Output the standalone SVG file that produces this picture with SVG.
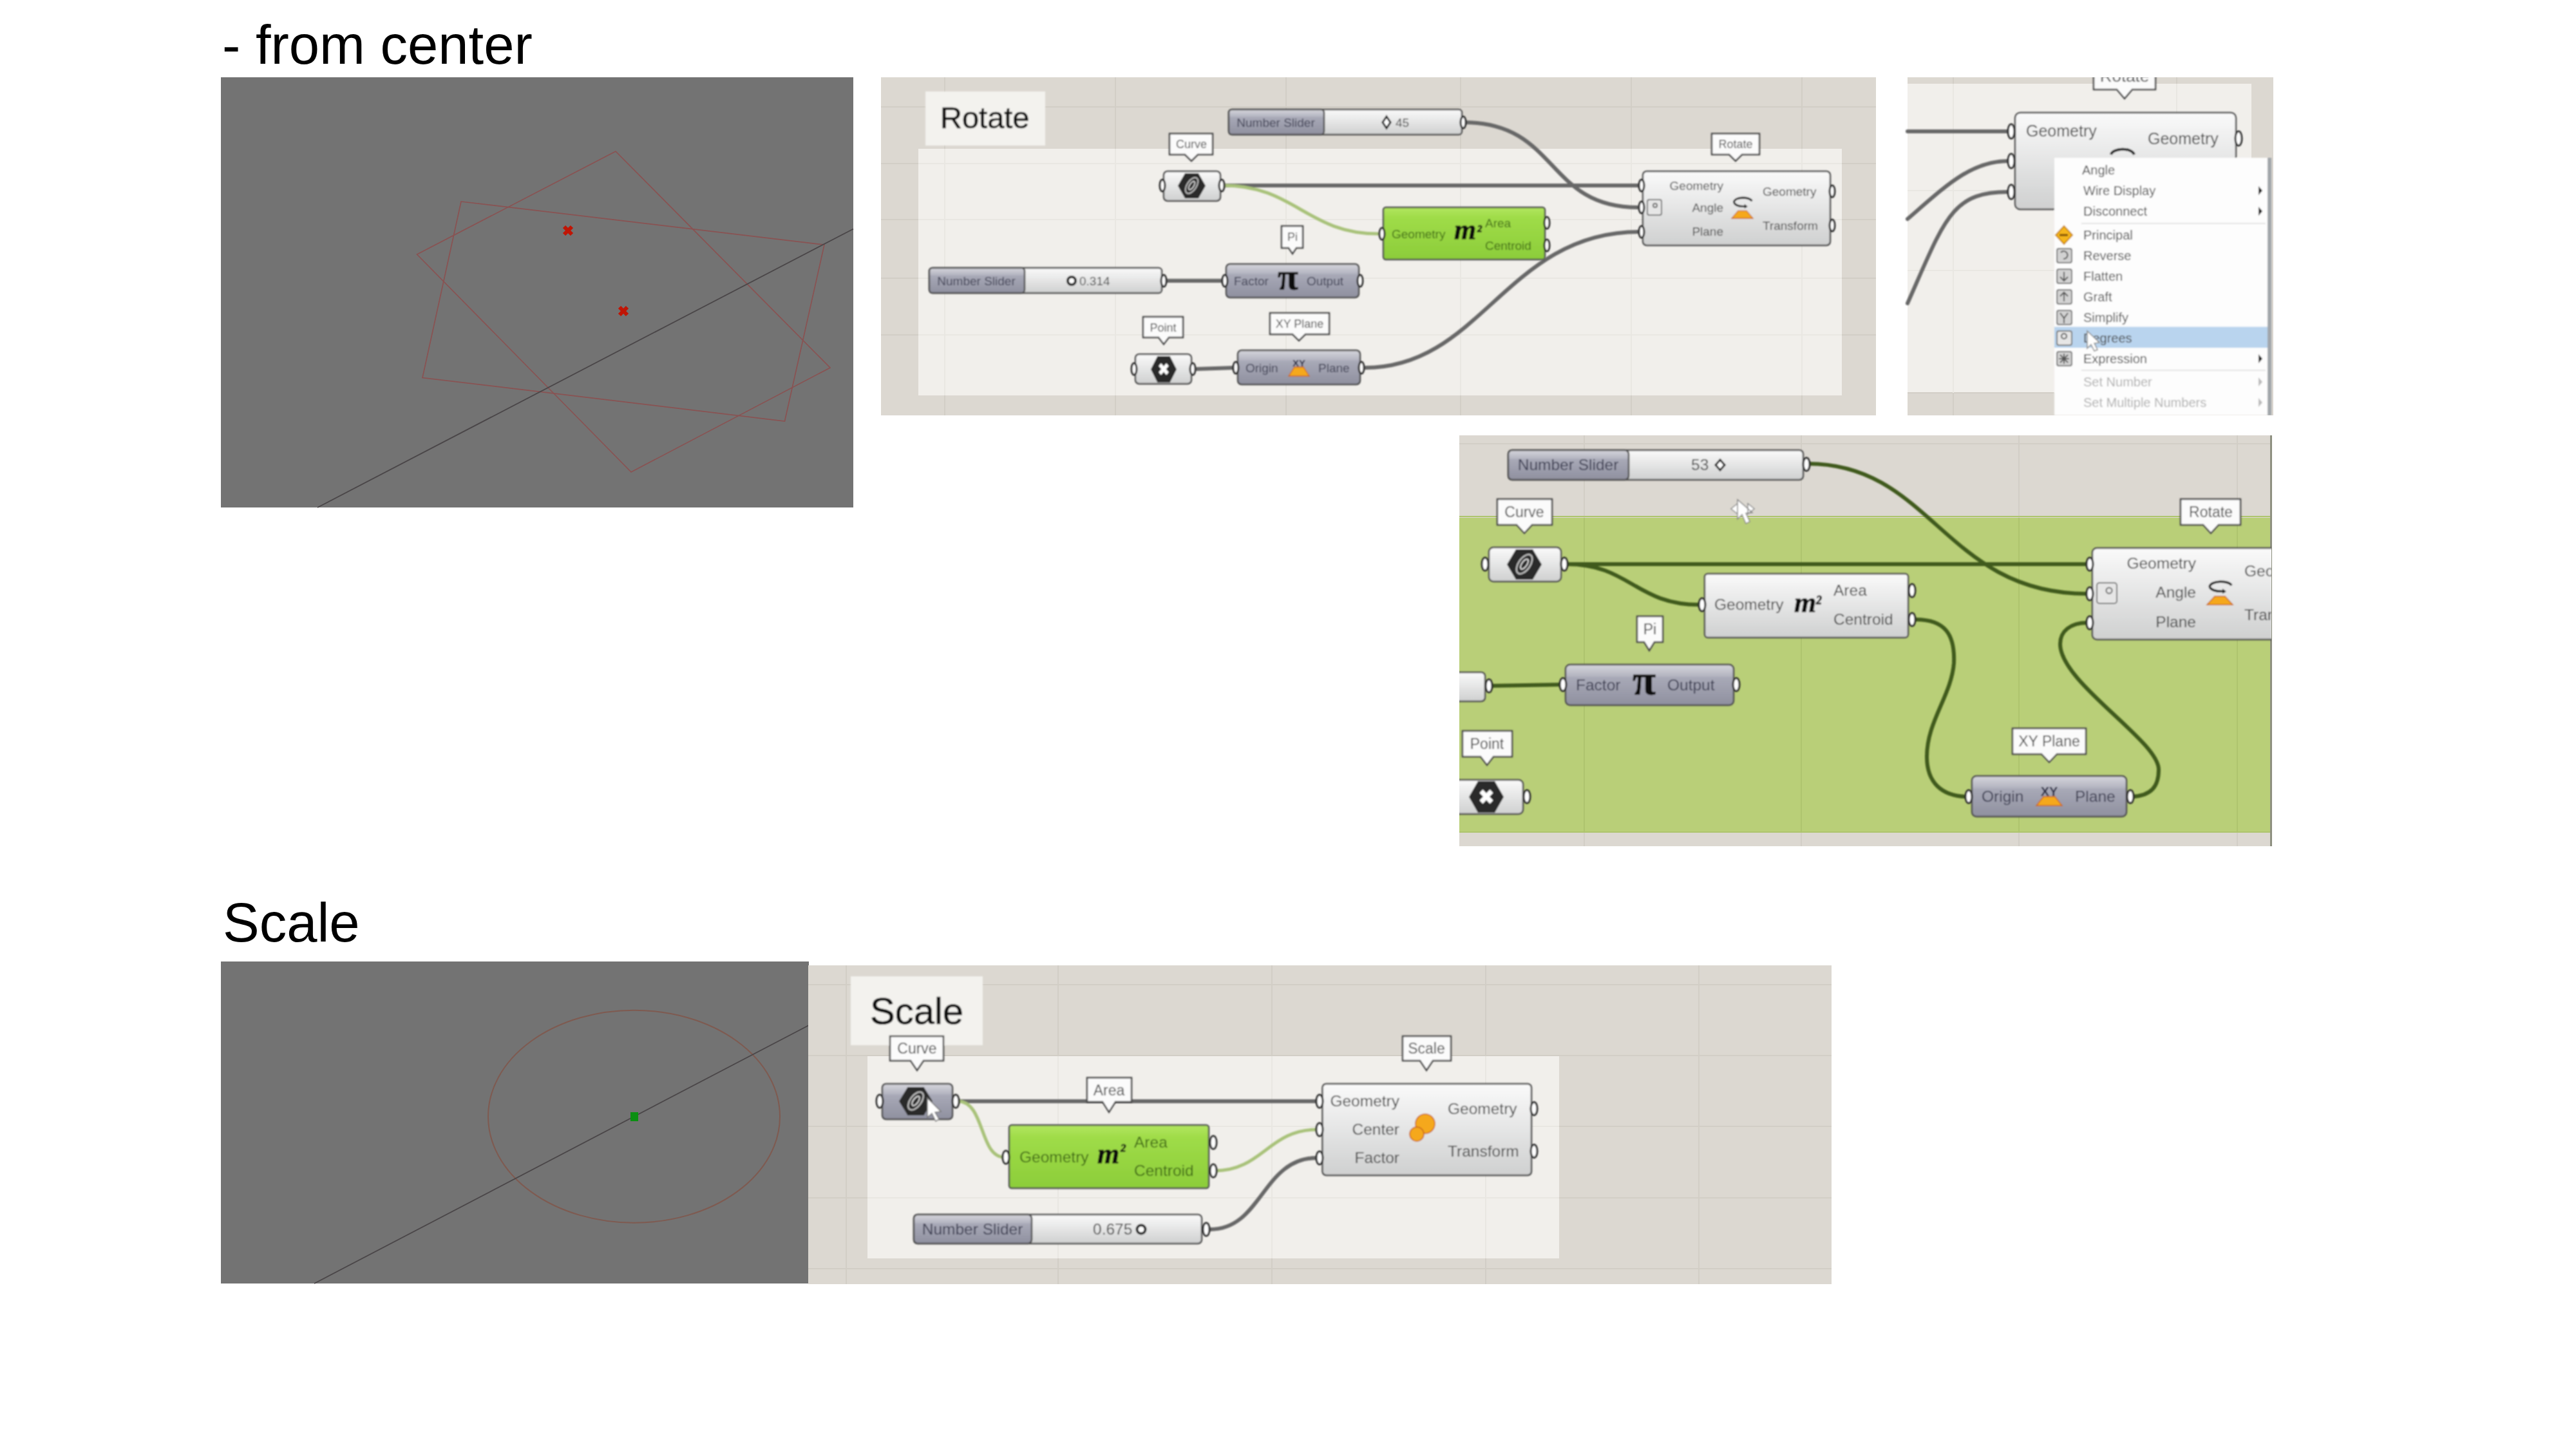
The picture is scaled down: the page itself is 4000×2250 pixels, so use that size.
<svg xmlns="http://www.w3.org/2000/svg" width="4000" height="2250" viewBox="0 0 4000 2250">
<style>
text{font-family:"Liberation Sans",Arial,sans-serif;fill:#4a4a4a}
.title{font-size:85px;fill:#000}
.view{fill:#737373}
.cv{fill:#dcd8d1}
.wh{fill:#f1efeb}
.gl{stroke:#d2cec6;stroke-width:2;fill:none}
.glw{stroke:#e9e7e2;stroke-width:2;fill:none}
.red{fill:none;stroke:#8a5252;stroke-width:1.7}
.axis{fill:none;stroke:#4a4648;stroke-width:1.8}
.mark{fill:none;stroke:#c01505;stroke-width:6}
.n{stroke:#4f4f4f;stroke-width:2.5}
.lt{fill:url(#gLt)}
.bl{fill:url(#gBl)}
.gr{fill:url(#gGr)}
.tip{fill:#fbfbfb;stroke:#4a4a4a;stroke-width:2.5}
.p{fill:#fff;stroke:#2a2a2a;stroke-width:3}
.w{fill:none;stroke:#686868;stroke-width:6;stroke-linecap:round}
.wg{fill:none;stroke:#a9c27a;stroke-width:5;stroke-linecap:round}
.wd{fill:none;stroke:#3f5a1e;stroke-width:6;stroke-linecap:round}
.m{text-anchor:middle}
.e{text-anchor:end}
.s19{font-size:19px}.s24{font-size:24.5px}.s18{font-size:18px}.s23{font-size:23px}.s20{font-size:20px}
.gt{fill:#3f6b16}
.nv{fill:#3c3e52}
.hex{fill:#2a2a2a}
.pi{font-family:"Liberation Serif",serif;font-weight:bold;fill:#111;stroke:#111;stroke-width:.8}
.m2{font-family:"Liberation Serif",serif;font-weight:bold;font-style:italic;fill:#111;stroke:#111;stroke-width:.8}
.xy{font-weight:bold;fill:#2c2c44;text-anchor:middle}
.hd{fill:#111;stroke:#111;stroke-width:.6}
.or{fill:#f5a81e;stroke:#c8641a;stroke-width:1.5}
.ic{fill:#d2d2d2;stroke:#777;stroke-width:2}
.dim{fill:#b0b0b0}
</style>
<defs>
<linearGradient id="gLt" x1="0" y1="0" x2="0" y2="1"><stop offset="0" stop-color="#fafafa"/><stop offset="1" stop-color="#cfd0d0"/></linearGradient>
<linearGradient id="gBl" x1="0" y1="0" x2="0" y2="1"><stop offset="0" stop-color="#d6d6dc"/><stop offset=".28" stop-color="#b4b5c1"/><stop offset=".32" stop-color="#a8a9b7"/><stop offset="1" stop-color="#8f909f"/></linearGradient>
<linearGradient id="gGr" x1="0" y1="0" x2="0" y2="1"><stop offset="0" stop-color="#b2e660"/><stop offset=".2" stop-color="#9fdc48"/><stop offset="1" stop-color="#8ccd3a"/></linearGradient>
<filter id="soft" x="-2%" y="-2%" width="104%" height="104%"><feGaussianBlur stdDeviation="0.8"/></filter>
<clipPath id="cA"><rect x="2962" y="120" width="568" height="525"/></clipPath>
<clipPath id="cB"><rect x="2266" y="676" width="1261" height="638"/></clipPath>
<symbol id="crv" viewBox="0 0 54 47" preserveAspectRatio="none" overflow="visible"><polygon class="hex" points="0,23.500 14,0 40,0 54,23.500 40,47 14,47"/><ellipse cx="27" cy="23" rx="9" ry="17" transform="rotate(35 27 23)" fill="none" stroke="#bbb" stroke-width="2.500"/><ellipse cx="27" cy="23" rx="4" ry="9" transform="rotate(35 27 23)" fill="none" stroke="#ddd" stroke-width="2"/></symbol>
<symbol id="pt" viewBox="0 0 54 47" preserveAspectRatio="none" overflow="visible"><polygon class="hex" points="0,23.500 14,0 40,0 54,23.500 40,47 14,47"/><path d="M19 15L35 31M35 15L19 31" stroke="#fff" stroke-width="7" fill="none"/></symbol>
<symbol id="rot" viewBox="0 0 40 37" preserveAspectRatio="none" overflow="visible"><path d="M4 9C6 -1 34 -1 38 7M4 9C6 14 14 17 26 16" fill="none" stroke="#1c1c1c" stroke-width="3.500"/><polygon points="24,12 30,16.500 24,20" fill="#1c1c1c"/><polygon class="or" points="12,24 28,24 40,37 0,37"/></symbol>
<symbol id="xy" viewBox="0 0 40 14" preserveAspectRatio="none" overflow="visible"><polygon class="or" points="11,0 29,0 40,14 0,14"/></symbol>
</defs>

<text class="title" x="345" y="99">- from center</text>
<text class="title" x="346" y="1462">Scale</text>

<!-- viewport 1 -->
<rect class="view" x="343" y="120" width="982" height="668"/>
<polygon class="red" points="956,235 1289,571 980,733 647.5,395"/>
<polygon class="red" points="716,313 1280,380 1218.5,654 656,586.5"/>
<line class="axis" x1="493" y1="788" x2="1325" y2="355.5"/>
<path class="mark" d="M876 352L888 364M888 352L876 364M962 477L974 489M974 477L962 489"/>

<!-- viewport 2 -->
<rect class="view" x="343" y="1493" width="913" height="500"/>
<ellipse cx="984.5" cy="1733.7" rx="226.5" ry="165" fill="none" stroke="#7f5a50" stroke-width="2"/>
<line class="axis" x1="488" y1="1993" x2="1256" y2="1592"/>
<rect x="979" y="1727" width="12" height="14" fill="#0b8f12"/>

<!-- canvas backgrounds -->
<rect class="cv" x="1368" y="120" width="1545" height="525"/>
<path class="gl" d="M1467 120V645M1732 120V645M1997 120V645M2268 120V645M2533 120V645M2798 120V645M1368 166H2913M1368 254H2913M1368 341H2913M1368 432H2913M1368 520H2913"/>
<rect class="wh" x="1426" y="231" width="1434" height="383"/>
<path class="glw" d="M1467 231V614M1732 231V614M1997 231V614M2268 231V614M2533 231V614M2798 231V614M1426 254H2860M1426 341H2860M1426 432H2860M1426 520H2860"/>

<rect class="cv" x="2962" y="120" width="568" height="525"/>
<rect class="wh" x="2962" y="130" width="534" height="480"/>
<path class="gl" d="M3033 120V130M3033 610V645M3380 120V130M2962 610H3190"/>
<path class="glw" d="M3033 130V610M3380 130V610M2962 296H3190M2962 420H3190"/>

<rect class="cv" x="2266" y="676" width="1261" height="638"/>
<rect x="2266" y="804" width="1259" height="488" fill="#b9cf78"/>
<path d="M3526.500 676V1314" stroke="#8e9080" stroke-width="3"/>
<path class="gl" d="M2460 676V804M2797 676V804M3135 676V804M3474 676V804M2460 1292V1314M2797 1292V1314M3135 1292V1314M3474 1292V1314M2266 689H3525"/>
<path d="M2460 804V1292M2797 804V1292M3135 804V1292M3474 804V1292M2266 802H3525M2266 1292H3525" fill="none" stroke="#aec46e" stroke-width="2"/>

<rect class="cv" x="1255" y="1499" width="1589" height="495"/>
<path class="gl" d="M1314 1499V1994M1643 1499V1994M1975 1499V1994M2307 1499V1994M2638 1499V1994M1255 1529H2844M1255 1639H2844M1255 1749H2844M1255 1860H2844M1255 1970H2844"/>
<rect class="wh" x="1347" y="1640" width="1074" height="314"/>
<path class="glw" d="M1643 1640V1954M1975 1640V1954M2307 1640V1954M1347 1749H2421M1347 1860H2421"/>

<g id="connectors" filter="url(#soft)">
<path class="w" d="M2273 190C2420 190 2400 322 2543 322"/>
<path class="w" d="M1900 288H2549"/>
<path class="wg" d="M1900 288C2010 288 2030 363 2140 363"/>
<path class="w" d="M1809 436H1900"/>
<path class="w" d="M1858 573L1916 571"/>
<path class="w" d="M2120 571C2300 571 2340 360 2545 360"/>
<path class="w" d="M2962 204H3125"/>
<path class="w" d="M2962 340C3020 290 3060 250 3118 250"/>
<path class="w" d="M2962 471C3020 340 3030 298 3118 298"/>
<path class="wd" d="M2807 720C3000 720 3020 922 3241 922"/>
<path class="wd" d="M2433 876H3241"/>
<path class="wd" d="M2433 876C2530 876 2540 939 2639 939"/>
<path class="wd" d="M2312 1065L2426 1063"/>
<path class="wd" d="M2975 962C3020 962 3036 985 3034 1030C3030 1080 2992 1120 2992 1175C2992 1215 3015 1237 3056 1237"/>
<path class="wd" d="M3312 1237C3340 1235 3352 1222 3352 1195C3352 1150 3199 1060 3199 1000C3199 980 3215 967 3241 967"/>
<path class="w" d="M1487 1710H2045"/>
<path class="wg" d="M1487 1710C1530 1710 1520 1797 1560 1797"/>
<path class="wg" d="M1886 1818C1960 1818 1970 1754 2045 1754"/>
<path class="w" d="M1879 1909C1960 1909 1960 1798 2045 1798"/>
</g>

<!-- Rotate canvas -->
<g filter="url(#soft)">
<g id="r-title"><rect x="1437" y="142" width="186" height="84" fill="#f3f2ee"/><text class="hd" x="1460" y="199" font-size="47">Rotate</text></g>
<g id="r-slider1"><rect class="n lt" x="1908" y="170" width="362" height="39" rx="5"/><rect class="n bl" x="1908" y="170" width="148" height="39" rx="5"/><text class="s19 m nv" x="1981" y="197">Number Slider</text><path d="M2153 181l6 9l-6 9l-6-9z" fill="#fff" stroke="#222" stroke-width="3"/><text class="s19" x="2167" y="197">45</text><ellipse class="p" cx="2272" cy="190" rx="4" ry="9"/></g>
<g id="r-curve"><path class="tip" d="M1816 207.500H1883V240H1860L1850 250L1840 240H1816Z"/><text class="s18 m" x="1850" y="230">Curve</text><rect class="n lt" x="1807" y="266" width="88" height="46" rx="6"/><use href="#crv" x="1829" y="269" width="43" height="39"/><ellipse class="p" cx="1805" cy="288" rx="4" ry="9"/><ellipse class="p" cx="1897" cy="288" rx="4" ry="9"/></g>
<g id="r-rotate"><path class="tip" d="M2658 207.500H2732V240H2705L2695 250L2685 240H2658Z"/><text class="s18 m" x="2695" y="230">Rotate</text><rect class="n lt" x="2551" y="266" width="291" height="115" rx="6"/><text class="s19 e" x="2676" y="295">Geometry</text><text class="s19 e" x="2676" y="329">Angle</text><text class="s19 e" x="2676" y="366">Plane</text><text class="s19" x="2737" y="304">Geometry</text><text class="s19" x="2737" y="357">Transform</text><use href="#rot" x="2689" y="306" width="33" height="33"/><rect x="2558" y="310" width="22" height="24" rx="3" fill="#e6e6e6" stroke="#777" stroke-width="2"/><circle cx="2570" cy="319" r="3" fill="none" stroke="#666" stroke-width="2"/><ellipse class="p" cx="2549" cy="288" rx="4" ry="9"/><ellipse class="p" cx="2549" cy="322" rx="4" ry="9"/><ellipse class="p" cx="2549" cy="360" rx="4" ry="9"/><ellipse class="p" cx="2845" cy="297" rx="4" ry="9"/><ellipse class="p" cx="2845" cy="350" rx="4" ry="9"/></g>
<g id="r-area"><rect class="n gr" x="2148" y="322" width="251" height="81" rx="4"/><text class="s19 gt" x="2161" y="370">Geometry</text><text class="m2" x="2258" y="371" font-size="44">m</text><text class="m2" x="2294" y="360" font-size="15">2</text><text class="s19 gt" x="2306" y="353">Area</text><text class="s19 gt" x="2306" y="388">Centroid</text><ellipse class="p" cx="2146" cy="363" rx="4" ry="9"/><ellipse class="p" cx="2402" cy="346" rx="4" ry="9"/><ellipse class="p" cx="2402" cy="381" rx="4" ry="9"/></g>
<g id="r-pi"><path class="tip" d="M1990 351H2023V385H2013L2007 394L2001 385H1990Z"/><text class="s18 m" x="2007" y="374">Pi</text><rect class="n bl" x="1904" y="410" width="206" height="52" rx="6"/><text class="s19 nv" x="1916" y="443">Factor</text><text class="pi m" x="2000" y="449" font-size="58">π</text><text class="s19 nv" x="2029" y="443">Output</text><ellipse class="p" cx="1902" cy="436" rx="4" ry="9"/><ellipse class="p" cx="2112" cy="436" rx="4" ry="9"/></g>
<g id="r-slider2"><rect class="n lt" x="1443" y="416" width="361" height="39" rx="5"/><rect class="n bl" x="1443" y="416" width="148" height="39" rx="5"/><text class="s19 m nv" x="1516" y="443">Number Slider</text><circle cx="1664" cy="436" r="6" fill="#fff" stroke="#222" stroke-width="4"/><text class="s19" x="1676" y="443">0.314</text><ellipse class="p" cx="1807" cy="436" rx="4" ry="9"/></g>
<g id="r-point"><path class="tip" d="M1775 492H1837V524H1815L1807 534.500L1799 524H1775Z"/><text class="s18 m" x="1806" y="515">Point</text><rect class="n lt" x="1763" y="550" width="87" height="46" rx="6"/><use href="#pt" x="1787" y="553" width="40" height="41"/><ellipse class="p" cx="1761" cy="573" rx="4" ry="9"/><ellipse class="p" cx="1852" cy="573" rx="4" ry="9"/></g>
<g id="r-xy"><path class="tip" d="M1972 486H2064V519H2027L2017 529L2007 519H1972Z"/><text class="s18 m" x="2018" y="509">XY Plane</text><rect class="n bl" x="1922" y="544" width="190" height="53" rx="6"/><text class="s19 nv" x="1934" y="578">Origin</text><text class="s19 nv" x="2047" y="578">Plane</text><text class="xy" x="2017" y="569" font-size="15">XY</text><use href="#xy" x="2001" y="570" width="32" height="14"/><ellipse class="p" cx="1919" cy="571" rx="4" ry="9"/><ellipse class="p" cx="2114" cy="571" rx="4" ry="9"/></g>
</g>

<!-- context-menu crop -->
<g clip-path="url(#cA)" filter="url(#soft)">
<g id="m-tip"><path class="tip" d="M3251 100H3347V139H3311L3299 153L3287 139H3251Z"/><text class="m" x="3299" y="127" font-size="26">Rotate</text></g>
<g id="m-rotate"><rect class="n lt" x="3129" y="175" width="343" height="150" rx="8"/><text x="3146" y="212" font-size="25">Geometry</text><text x="3335" y="224" font-size="25">Geometry</text><path d="M3278 240C3280 230 3310 228 3314 240" fill="none" stroke="#222" stroke-width="4"/><ellipse class="p" cx="3123" cy="204" rx="5" ry="11"/><ellipse class="p" cx="3123" cy="250" rx="5" ry="11"/><ellipse class="p" cx="3123" cy="298" rx="5" ry="11"/><ellipse class="p" cx="3476" cy="215" rx="5" ry="11"/></g>
<g id="m-menu"><rect x="3190" y="245" width="331" height="400" fill="#fdfdfd"/><rect x="3521" y="245" width="6" height="400" fill="#a2a6aa"/>
<rect x="3190" y="507.500" width="331" height="32.500" fill="#b9d4ee"/>
<path d="M3232 347H3518M3232 575H3518" stroke="#e4e4e4" stroke-width="2"/>
<g class="s20"><text x="3233" y="271">Angle</text><text x="3235" y="303">Wire Display</text><text x="3235" y="335">Disconnect</text><text x="3235" y="372">Principal</text><text x="3235" y="404">Reverse</text><text x="3235" y="436">Flatten</text><text x="3235" y="468">Graft</text><text x="3235" y="500">Simplify</text><text x="3235" y="532">Degrees</text><text x="3235" y="564">Expression</text><text class="dim" x="3235" y="600">Set Number</text><text class="dim" x="3235" y="632">Set Multiple Numbers</text></g>
<path d="M3507 289l6 7l-6 7zM3507 321l6 7l-6 7zM3507 550l6 7l-6 7z" fill="#222"/><path d="M3507 586l6 7l-6 7zM3507 618l6 7l-6 7z" fill="#bbb"/>
<path d="M3205 351l13 14l-13 14l-13-14z" fill="#f5b51e" stroke="#c98800" stroke-width="2"/><path d="M3198 365h13" stroke="#7a4a00" stroke-width="3"/>
<rect class="ic" x="3194" y="386" width="23" height="22" rx="3"/><rect class="ic" x="3194" y="418" width="23" height="22" rx="3"/><rect class="ic" x="3194" y="450" width="23" height="22" rx="3"/><rect class="ic" x="3194" y="482" width="23" height="22" rx="3"/><rect class="ic" x="3194" y="514" width="23" height="22" rx="3" style="fill:#e6e6e6"/><rect class="ic" x="3194" y="546" width="23" height="22" rx="3"/>
<path d="M3205 422v13M3199 430l6 6l6-6M3205 468v-13M3199 460l6-6l6 6M3199 486l6 8l6-8M3205 494v8M3199 551l12 12M3211 551l-12 12M3205 549v16M3197 557h16M3200 392a6 6 0 1 1 4 10" stroke="#555" stroke-width="2" fill="none"/><circle cx="3205" cy="522" r="4" fill="none" stroke="#555" stroke-width="2"/>
<path d="M3241 514l0 27l6-6l5 10l5-2l-5-10l8-1z" fill="#fff" stroke="#888" stroke-width="1.500"/></g>
</g>

<!-- green-group crop -->
<g clip-path="url(#cB)" filter="url(#soft)">
<g id="g-slider"><rect class="n lt" x="2342" y="699" width="458" height="46" rx="6"/><rect class="n bl" x="2342" y="699" width="187" height="46" rx="6"/><text class="s24 m nv" x="2435" y="730">Number Slider</text><text class="s24" x="2626" y="730">53</text><path d="M2671 714l7 8l-7 8l-7-8z" fill="#fff" stroke="#222" stroke-width="3"/><ellipse class="p" cx="2805" cy="721" rx="5" ry="10"/></g>
<g id="g-curve"><path class="tip" d="M2325 775H2410V815H2379L2367 828L2355 815H2325Z"/><text class="s23 m" x="2367" y="803">Curve</text><rect class="n lt" x="2312" y="850" width="112" height="53" rx="7"/><use href="#crv" x="2340" y="853" width="54" height="47"/><ellipse class="p" cx="2306" cy="876" rx="5" ry="10"/><ellipse class="p" cx="2429" cy="876" rx="5" ry="10"/></g>
<g id="g-rotate"><path class="tip" d="M3386 775H3479V815H3445L3433 828L3421 815H3386Z"/><text class="s23 m" x="3433" y="803">Rotate</text><rect class="n lt" x="3249" y="851" width="300" height="142" rx="7"/><text class="s24 e" x="3410" y="883">Geometry</text><text class="s24 e" x="3410" y="928">Angle</text><text class="s24 e" x="3410" y="974">Plane</text><text class="s24" x="3485" y="895">Geometry</text><text class="s24" x="3485" y="963">Transform</text><use href="#rot" x="3427" y="902" width="40" height="37"/><rect x="3256" y="905" width="31" height="32" rx="4" fill="#e6e6e6" stroke="#777" stroke-width="2"/><circle cx="3275" cy="917" r="4.500" fill="none" stroke="#666" stroke-width="2"/><ellipse class="p" cx="3245" cy="876" rx="5" ry="10"/><ellipse class="p" cx="3245" cy="922" rx="5" ry="10"/><ellipse class="p" cx="3245" cy="967" rx="5" ry="10"/></g>
<g id="g-area"><rect class="n lt" x="2647" y="891" width="316" height="99" rx="5"/><text class="s24" x="2662" y="947">Geometry</text><text class="m2" x="2786" y="950" font-size="44">m</text><text class="m2" x="2820" y="938" font-size="18">2</text><text class="s24" x="2847" y="925">Area</text><text class="s24" x="2847" y="970">Centroid</text><ellipse class="p" cx="2643" cy="939" rx="5" ry="10"/><ellipse class="p" cx="2969" cy="917" rx="5" ry="10"/><ellipse class="p" cx="2969" cy="962" rx="5" ry="10"/></g>
<g id="g-pi"><path class="tip" d="M2542 957H2582V997H2569L2561 1010L2553 997H2542Z"/><text class="s23 m" x="2562" y="985">Pi</text><rect class="n bl" x="2431" y="1032" width="261" height="63" rx="7"/><text class="s24 nv" x="2447" y="1072">Factor</text><text class="pi m" x="2553" y="1078" font-size="66">π</text><text class="s24 nv" x="2589" y="1072">Output</text><ellipse class="p" cx="2427" cy="1063" rx="5" ry="10"/><ellipse class="p" cx="2696" cy="1063" rx="5" ry="10"/></g>
<g id="g-stub"><rect class="n lt" x="2250" y="1044" width="56" height="45" rx="6"/><ellipse class="p" cx="2312" cy="1065" rx="5" ry="10"/></g>
<g id="g-point"><path class="tip" d="M2271 1135H2348V1175H2319L2309 1188L2299 1175H2271Z"/><text class="s23 m" x="2309" y="1163">Point</text><rect class="n lt" x="2240" y="1211" width="125" height="53" rx="7"/><use href="#pt" x="2281" y="1213" width="54" height="49"/><ellipse class="p" cx="2371" cy="1237" rx="5" ry="10"/></g>
<g id="g-xy"><path class="tip" d="M3125 1131H3239V1171H3194L3182 1183.500L3170 1171H3125Z"/><text class="s23 m" x="3182" y="1159">XY Plane</text><rect class="n bl" x="3062" y="1205" width="240" height="63" rx="7"/><text class="s24 nv" x="3077" y="1245">Origin</text><text class="s24 nv" x="3222" y="1245">Plane</text><text class="xy" x="3182" y="1236" font-size="20">XY</text><use href="#xy" x="3162" y="1237" width="40" height="14"/><ellipse class="p" cx="3057" cy="1237" rx="5" ry="10"/><ellipse class="p" cx="3308" cy="1237" rx="5" ry="10"/></g>
<path id="g-cursor" d="M2698 776l0 30l7-7l6 14l6-3l-6-13l10-1zM2688 790l10-8v16zM2724 790l-10-8v16z" fill="#fff" stroke="#888" stroke-width="1.500"/>
</g>

<!-- Scale canvas -->
<g filter="url(#soft)">
<g id="s-title"><rect x="1321" y="1516" width="205" height="107" fill="#f3f2ee"/><text class="hd" x="1351" y="1590" font-size="58">Scale</text></g>
<g id="s-curve"><path class="tip" d="M1382 1609H1465V1647H1434L1424 1662L1414 1647H1382Z"/><text class="s23 m" x="1424" y="1636">Curve</text><rect class="n bl" x="1370" y="1683" width="109" height="55" rx="6"/><use href="#crv" x="1396" y="1688" width="52" height="44"/><ellipse class="p" cx="1366" cy="1710" rx="5" ry="10"/><ellipse class="p" cx="1484" cy="1710" rx="5" ry="10"/><path d="M1440 1705l0 30l7-6l6 12l5-3l-6-11l9-1z" fill="#fff" stroke="#777" stroke-width="1.500"/></g>
<g id="s-tip-area"><path class="tip" d="M1688 1673.500H1757V1711H1732L1722 1727L1712 1711H1688Z"/><text class="s23 m" x="1722" y="1701">Area</text></g>
<g id="s-area"><rect class="n gr" x="1567" y="1747" width="310" height="98" rx="4"/><text class="s24 gt" x="1583" y="1805">Geometry</text><text class="m2" x="1704" y="1806" font-size="44">m</text><text class="m2" x="1740" y="1788" font-size="17">2</text><text class="s24 gt" x="1761" y="1782">Area</text><text class="s24 gt" x="1761" y="1826">Centroid</text><ellipse class="p" cx="1562" cy="1797" rx="5" ry="10"/><ellipse class="p" cx="1884" cy="1774" rx="5" ry="10"/><ellipse class="p" cx="1884" cy="1818" rx="5" ry="10"/></g>
<g id="s-scale"><path class="tip" d="M2178 1609H2253V1647H2225L2215 1662L2205 1647H2178Z"/><text class="s23 m" x="2215" y="1636">Scale</text><rect class="n lt" x="2053.500" y="1683" width="324.500" height="142" rx="6"/><text class="s24 e" x="2173" y="1718">Geometry</text><text class="s24 e" x="2173" y="1762">Center</text><text class="s24 e" x="2173" y="1806">Factor</text><text class="s24" x="2248" y="1730">Geometry</text><text class="s24" x="2248" y="1796">Transform</text><circle class="or" cx="2213" cy="1745" r="15"/><circle class="or" cx="2200" cy="1761" r="11"/><ellipse class="p" cx="2049" cy="1710" rx="5" ry="10"/><ellipse class="p" cx="2049" cy="1754" rx="5" ry="10"/><ellipse class="p" cx="2049" cy="1798" rx="5" ry="10"/><ellipse class="p" cx="2382" cy="1721.500" rx="5" ry="10"/><ellipse class="p" cx="2382" cy="1787.500" rx="5" ry="10"/></g>
<g id="s-slider"><rect class="n lt" x="1419" y="1886" width="447" height="45" rx="6"/><rect class="n bl" x="1419" y="1886" width="183" height="45" rx="6"/><text class="s24 m nv" x="1510" y="1917">Number Slider</text><text class="s24" x="1697" y="1917">0.675</text><circle cx="1772" cy="1909" r="6.500" fill="#fff" stroke="#222" stroke-width="4"/><ellipse class="p" cx="1873" cy="1909" rx="5" ry="10"/></g>
</g>
</svg>
